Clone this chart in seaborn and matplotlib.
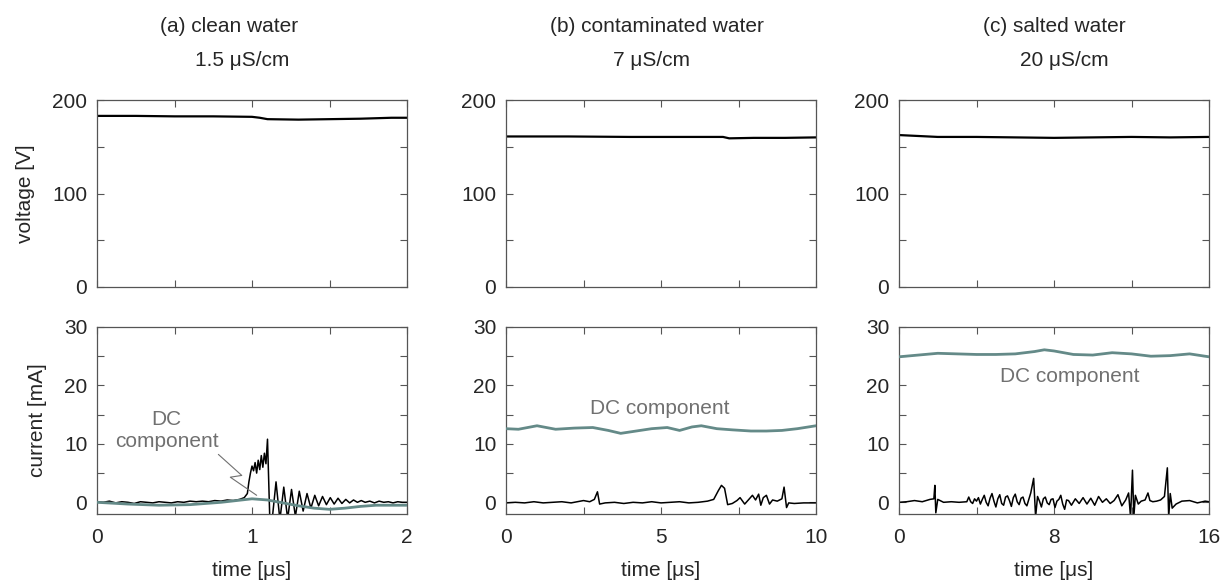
import matplotlib
matplotlib.use("Agg")
from matplotlib import pyplot as plt
from matplotlib.ticker import MultipleLocator, FuncFormatter
import seaborn as sns
import pandas as pd

# voltage traces [V]
volt_t_a = [0, 0.25, 0.5, 0.75, 1.0, 1.05, 1.1, 1.3, 1.5, 1.7, 1.9, 2.0]
volt_a = [183, 183, 182.5, 182.5, 182, 181, 179.5, 179, 179.5, 180, 181, 181]
volt_t_b = [0, 2, 4, 6, 7, 7.2, 8, 9, 10]
volt_b = [161, 161, 160.5, 160.5, 160.5, 159, 159.5, 159.5, 160]
volt_t_c = [0, 1, 2, 4, 6, 8, 10, 12, 14, 16]
volt_c = [162.5, 161.5, 160.5, 160.5, 160, 159.5, 160, 160.5, 160, 160.5]

# current traces [mA]
cur_t_a = [0.00, 0.04, 0.08, 0.12, 0.16, 0.20, 0.24, 0.28, 0.32, 0.36,
           0.40, 0.44, 0.48, 0.52, 0.56, 0.60, 0.64, 0.68, 0.72, 0.76,
           0.80, 0.84, 0.88, 0.92, 0.95, 0.97, 0.98, 0.99, 1.00, 1.01,
           1.02, 1.03, 1.04, 1.05, 1.06, 1.07, 1.08, 1.09, 1.10, 1.115,
           1.13, 1.155, 1.18, 1.205, 1.23, 1.255, 1.28, 1.305, 1.33, 1.355,
           1.38, 1.405, 1.43, 1.455, 1.48, 1.505, 1.53, 1.555, 1.58, 1.605,
           1.63, 1.655, 1.68, 1.705, 1.73, 1.76, 1.79, 1.82, 1.85, 1.88,
           1.91, 1.94, 1.97, 2.00]
cur_a = [0.1, 0.0, 0.2, -0.1, 0.1, 0.0, -0.2, 0.1, 0.0, -0.1,
         0.1, 0.0, -0.1, 0.1, 0.0, 0.2, 0.1, 0.2, 0.1, 0.3,
         0.2, 0.4, 0.3, 0.5, 0.8, 1.5, 3.5, 5.0, 6.2, 5.4,
         6.8, 5.0, 7.2, 5.6, 8.0, 6.0, 8.4, 6.6, 10.8, -3.0,
         -3.0, 3.5, -3.0, 2.6, -2.8, 2.2, -2.4, 1.9, -1.5, 1.5,
         -1.0, 1.2, -0.6, 1.0, -0.4, 0.8, -0.3, 0.7, -0.2, 0.5,
         -0.1, 0.4, 0.0, 0.3, 0.0, 0.2, -0.1, 0.2, 0.0, 0.1,
         -0.1, 0.1, 0.0, 0.0]
cur_t_b = [0, 0.3, 0.6, 0.9, 1.2, 1.5, 1.8, 2.1, 2.3, 2.5,
           2.7, 2.85, 2.95, 3.02, 3.2, 3.5, 3.8, 4.1, 4.4, 4.7,
           5.0, 5.3, 5.6, 5.9, 6.2, 6.5, 6.7, 6.85, 6.95, 7.05,
           7.15, 7.3, 7.45, 7.55, 7.7, 7.85, 7.95, 8.05, 8.15, 8.22,
           8.3, 8.4, 8.5, 8.6, 8.75, 8.9, 8.97, 9.05, 9.12, 9.3,
           9.6, 10.0]
cur_b = [-0.1, 0.0, -0.1, 0.1, -0.1, 0.0, 0.1, -0.1, 0.1, 0.3,
         0.1, 0.5, 1.8, -0.3, -0.1, 0.0, -0.2, 0.0, -0.1, 0.1,
         -0.1, 0.0, 0.1, -0.1, 0.0, 0.2, 0.5, 2.0, 2.9, 2.4,
         -0.4, -0.2, 0.3, 0.8, -0.3, 0.6, 1.2, 0.4, 1.4, -0.5,
         0.8, 1.2, -0.3, 0.4, 0.2, 0.6, 2.6, -0.9, -0.1, -0.2,
         -0.1, -0.1]
cur_t_c = [0, 0.4, 0.8, 1.2, 1.6, 1.8, 1.85, 1.9, 2.0, 2.3,
           2.7, 3.1, 3.5, 3.6, 3.7, 3.8, 3.9, 4.0, 4.1, 4.2,
           4.3, 4.4, 4.5, 4.6, 4.7, 4.8, 4.9, 5.0, 5.1, 5.2,
           5.3, 5.4, 5.5, 5.6, 5.7, 5.8, 5.9, 6.0, 6.1, 6.2,
           6.3, 6.4, 6.5, 6.6, 6.7, 6.8, 6.95, 7.05, 7.15, 7.25,
           7.35, 7.45, 7.55, 7.65, 7.75, 7.85, 7.95, 8.05, 8.15, 8.25,
           8.35, 8.45, 8.55, 8.65, 8.75, 8.9, 9.1, 9.3, 9.5, 9.7,
           9.9, 10.1, 10.3, 10.5, 10.7, 10.9, 11.1, 11.3, 11.5, 11.7,
           11.85, 11.95, 12.05, 12.12, 12.2, 12.35, 12.5, 12.7, 12.85, 12.95,
           13.1, 13.3, 13.5, 13.7, 13.85, 13.92, 14.0, 14.1, 14.3, 14.6,
           15.0, 15.4, 15.8, 16.0]
cur_c = [0.0, 0.1, 0.3, 0.1, 0.5, 0.6, 2.9, -1.8, 0.5, 0.0,
         0.1, 0.0, 0.1, 0.9, 0.1, -0.2, 0.6, 0.2, 0.8, -0.3,
         0.5, 1.2, 0.0, -0.6, 0.7, 1.5, 0.2, -0.8, 0.6, 1.3,
         -0.2, -0.5, 0.9, 1.1, 0.3, -0.7, 0.8, 1.4, 0.1, -0.4,
         0.7, 0.9, -0.2, -0.6, 0.5, 1.6, 4.1, -2.5, 1.0, 0.2,
         -0.8, 0.6, 0.9, -0.1, -0.4, 0.5, 0.6, -0.9, 0.2, 0.5,
         1.2, -0.3, -1.2, 0.4, 0.3, -0.5, 0.6, -0.2, 0.8, -0.3,
         0.7, -0.5, 1.0, 0.0, 0.6, -0.2, 0.3, 1.3, -0.6, 0.4,
         1.6, -2.5, 5.5, -2.5, 1.2, -0.3, 0.2, 0.4, 1.6, 0.3,
         0.1, 0.2, 0.4, 1.0, 5.9, -2.5, 1.5, -1.0, -0.3, 0.2,
         0.3, -0.1, 0.2, 0.1]

# DC components [mA]
dc_t_a = [0, 0.2, 0.4, 0.6, 0.8, 0.9, 1.0, 1.1, 1.2, 1.3, 1.4, 1.5, 1.6, 1.7, 1.8, 1.9, 2.0]
dc_a = [0, -0.3, -0.5, -0.4, 0.0, 0.3, 0.6, 0.4, -0.1, -0.6, -1.0, -1.2, -1.0, -0.7, -0.5, -0.5, -0.5]
dc_t_b = [0, 0.4, 1.0, 1.6, 2.2, 2.8, 3.3, 3.7, 4.2, 4.7, 5.2, 5.6, 6.0, 6.3, 6.8, 7.3, 7.9, 8.4, 8.9, 9.4, 10.0]
dc_b = [12.6, 12.5, 13.1, 12.5, 12.7, 12.8, 12.3, 11.8, 12.2, 12.6, 12.8, 12.3, 12.9, 13.1, 12.6, 12.4, 12.2, 12.2, 12.3, 12.6, 13.1]
dc_t_c = [0, 1, 2, 3, 4, 5, 6, 7, 7.5, 8, 9, 10, 11, 12, 13, 14, 15, 16]
dc_c = [24.9, 25.2, 25.5, 25.4, 25.3, 25.3, 25.4, 25.8, 26.1, 25.9, 25.3, 25.2, 25.6, 25.4, 25.0, 25.1, 25.4, 24.9]

titles = ["(a) clean water", "(b) contaminated water", "(c) salted water"]
conductivity = ["1.5 μS/cm", "7 μS/cm", "20 μS/cm"]
xmax = [2, 10, 16]
xmajor = [1, 5, 8]

sns.set_theme(style="ticks")
plt.rcParams['font.family'] = ['Liberation Sans', 'DejaVu Sans']
FS = 15

DC_COLOR = '#648a88'
TXT_GRAY = '#707070'
SPINE = '#555555'

fig = plt.figure(figsize=(12.26, 5.85), dpi=100)
lefts = [97 / 1226, 506 / 1226, 899 / 1226]
w = 310 / 1226
h = 187 / 585

volts = [(volt_t_a, volt_a), (volt_t_b, volt_b), (volt_t_c, volt_c)]
curs = [(cur_t_a, cur_a), (cur_t_b, cur_b), (cur_t_c, cur_c)]
dcs = [(dc_t_a, dc_a), (dc_t_b, dc_b), (dc_t_c, dc_c)]


def style(ax, xm, xmaj, ymaj):
    ax.set_xlim(0, xm)
    ax.xaxis.set_major_locator(MultipleLocator(xmaj))
    ax.xaxis.set_minor_locator(MultipleLocator(xmaj / 2))
    ax.yaxis.set_major_locator(MultipleLocator(ymaj))
    ax.yaxis.set_minor_locator(MultipleLocator(ymaj / 2))
    ax.tick_params(which='both', direction='in', top=True, right=True,
                   length=5, width=0.8, color=SPINE, labelsize=FS)
    ax.tick_params(axis='x', pad=10)
    ax.tick_params(axis='y', pad=7)
    for s in ax.spines.values():
        s.set_color(SPINE)
        s.set_linewidth(0.9)
        s.set_visible(True)


for k in range(3):
    axv = fig.add_axes([lefts[k], 1 - 287 / 585, w, h])
    axc = fig.add_axes([lefts[k], 1 - 514 / 585, w, h])

    dv = pd.DataFrame({"t": volts[k][0], "v": volts[k][1]})
    sns.lineplot(data=dv, x="t", y="v", ax=axv, color='black', lw=1.6,
                 estimator=None, sort=False)
    axv.set_ylim(0, 200)
    style(axv, xmax[k], xmajor[k], 100)
    axv.tick_params(which='both', labelbottom=False)
    axv.set_xlabel("")
    axv.set_ylabel("")

    dcur = pd.DataFrame({"t": curs[k][0], "i": curs[k][1]})
    ddc = pd.DataFrame({"t": dcs[k][0], "i": dcs[k][1]})
    sns.lineplot(data=dcur, x="t", y="i", ax=axc, color='black', lw=1.1,
                 estimator=None, sort=False, zorder=2)
    sns.lineplot(data=ddc, x="t", y="i", ax=axc, color=DC_COLOR, lw=2.0,
                 estimator=None, sort=False, zorder=3)
    axc.set_ylim(-2, 30)
    style(axc, xmax[k], xmajor[k], 10)
    axc.xaxis.set_major_formatter(FuncFormatter(lambda v, p: f"{v:g}"))
    axc.set_xlabel("time [μs]", fontsize=FS, labelpad=10)
    axc.set_ylabel("")

    if k == 0:
        axv.set_ylabel("voltage [V]", fontsize=FS, labelpad=12)
        axc.set_ylabel("current [mA]", fontsize=FS, labelpad=12)
        axc.text(0.45, 12.3, "DC\ncomponent", color=TXT_GRAY, ha='center',
                 va='center', fontsize=FS, linespacing=1.2)
        axc.plot([0.783, 0.934, 0.86, 1.03], [8.2, 4.6, 4.3, 1.2],
                 color=TXT_GRAY, lw=0.8, zorder=4)
    elif k == 1:
        axc.text(4.95, 16.0, "DC component", color=TXT_GRAY, ha='center',
                 va='center', fontsize=FS)
    else:
        axc.text(8.8, 21.6, "DC component", color=TXT_GRAY, ha='center',
                 va='center', fontsize=FS)

title_x = [(229.5, 242), (657, 652), (1054, 1064)]
for k in range(3):
    fig.text(title_x[k][0] / 1226, 1 - 26 / 585, titles[k], ha='center',
             va='center', fontsize=FS)
    fig.text(title_x[k][1] / 1226, 1 - 60 / 585, conductivity[k], ha='center',
             va='center', fontsize=FS)

fig.savefig("out.png", dpi=100)
